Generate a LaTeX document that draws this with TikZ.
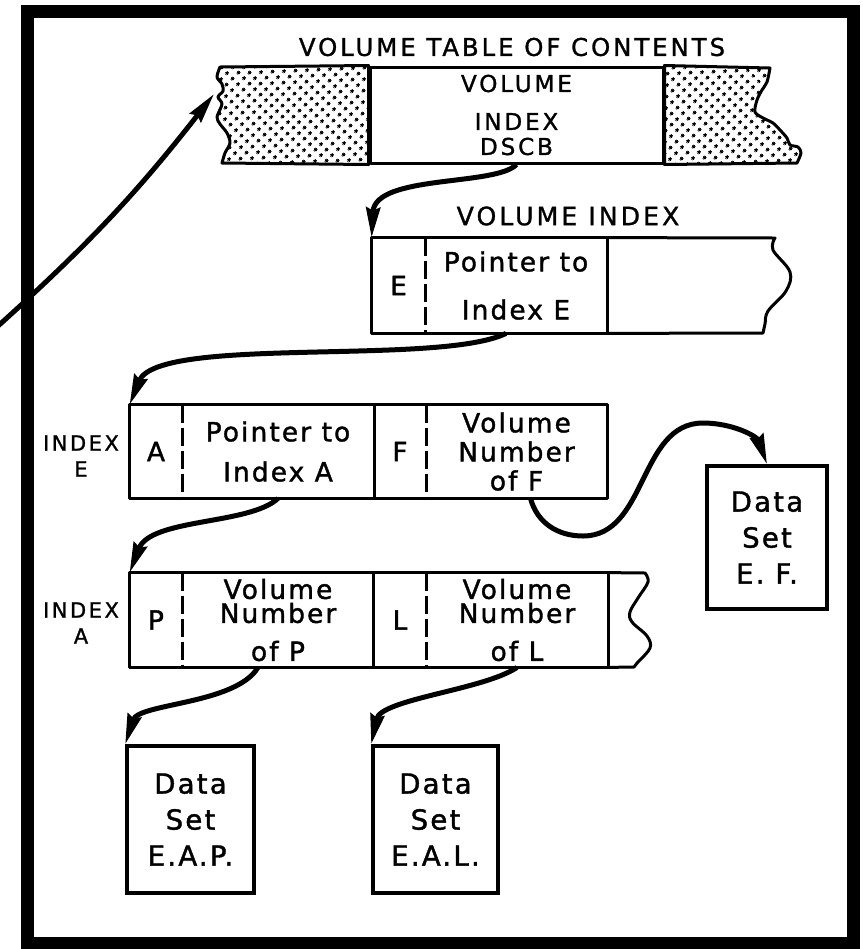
\documentclass[tikz,border=0pt]{standalone}
\usepackage{fontspec}
\setmainfont{DejaVu Sans}
\newfontfamily\lettering[LetterSpace=12, FakeBold=1.2]{DejaVu Sans}
\newfontfamily\cellfont[LetterSpace=8, FakeBold=1.4]{DejaVu Sans}
\usetikzlibrary{arrows.meta,patterns.meta}

\begin{document}
\begin{tikzpicture}[
  x=0.5pt, y=0.5pt,
  hdr/.style={font=\lettering\fontsize{12.2}{14}\selectfont, inner sep=0pt},
  sidelbl/.style={font=\lettering\fontsize{10.5}{13}\selectfont, align=center,
                  inner sep=0pt},
  cell/.style={minimum width=#1, minimum height=47pt, inner sep=0pt, align=center,
               font=\cellfont\fontsize{13.2}{14.5}\selectfont},
  rowline/.style={line width=1.5pt, line join=round},
  divider/.style={line width=1.2pt, dash pattern=on 9pt off 2.5pt},
  dataset/.style={draw, line width=1.8pt, minimum width=#1, minimum height=73.5pt,
                  inner sep=0pt, align=center,
                  font=\cellfont\fontsize{13.8}{18}\selectfont},
  link/.style={-{Stealth[length=15pt, width=7pt, inset=1.5pt]}, line width=2.5pt},
  dotfill/.style={pattern={Dots[distance=4pt, radius=0.95pt, angle=45]}},
]
\useasboundingbox (0,0) rectangle (863,-949);

% ---------------- outer frame ----------------------------------------
\draw[line width=6.5pt] (27,-11) rectangle (853,-943);

% ---------------- volume table of contents ---------------------------
\node[hdr] (vtoctitle) at (512,-47) {VOLUME TABLE OF CONTENTS};
\node[cell=146.5pt, draw, rowline, minimum height=48pt,
      font=\lettering\fontsize{11.6}{12.5}\selectfont] (dscb) at (516.5,-115)
  {VOLUME\\[6.5pt]INDEX\\DSCB};
\draw[rowline, dotfill] (dscb.north west) -- plot[smooth, tension=0.5] coordinates
  {(220,-67) (217,-77) (222,-84) (223,-91) (218,-97) (222,-104) (217,-117)
   (220,-124) (227,-133) (230,-143) (225,-153) (222,-163)} -- (dscb.south west) -- cycle;
\draw[rowline, dotfill] (dscb.north east) -- plot[smooth, tension=0.5] coordinates
  {(770,-68) (767,-82) (762,-90) (757,-100) (755,-112) (763,-118) (773,-123)
   (780,-130) (787,-138) (790,-145) (798,-147) (801,-153) (797,-163)} -- (dscb.south east) -- cycle;

% ---------------- volume index ---------------------------------------
\node[hdr, font=\lettering\fontsize{12.6}{14}\selectfont] (vixlbl) at (568,-216) {VOLUME INDEX};
\node[cell=26.5pt, minimum height=47.5pt] (vE)   at (398.5,-285.5) {E};
\node[cell=91pt,   minimum height=47.5pt] (vPtr) at (516,-285.5) {Pointer to\\[9.5pt]Index E};
\draw[rowline] (vE.north west) rectangle (vPtr.south east);
\draw[rowline] (vPtr.north east) -- plot[smooth, tension=0.6] coordinates
  {(775,-238) (773,-250) (790,-272) (786,-291) (768,-311) (765,-324) (763,-333)}
  -- (vPtr.south east);
\draw[divider] (vE.north east) -- (vE.south east);

% ---------------- index E --------------------------------------------
\node[sidelbl] (ixE) at (81,-456) {INDEX\\E};
\node[cell=26pt,   minimum height=46.5pt] (eA)   at (156,-451.5) {A};
\node[cell=96pt,   minimum height=46.5pt] (ePtr) at (278,-451.5) {Pointer to\\[5.5pt]Index A};
\node[cell=26pt,   minimum height=46.5pt] (eF)   at (400,-451.5) {F};
\node[cell=90.5pt, minimum height=46.5pt] (eVol) at (516.5,-451.5) {Volume\\Number\\of F};
\draw[rowline] (eA.north west) rectangle (eVol.south east);
\draw[rowline] (ePtr.north east) -- (ePtr.south east);
\foreach \c in {eA,eF}
  \draw[divider] (\c.north east) -- (\c.south east);

% ---------------- index A --------------------------------------------
\node[sidelbl] (ixA) at (81,-623) {INDEX\\A};
\node[cell=26pt] (aP)    at (156,-620) {P};
\node[cell=96pt] (aVol)  at (278,-620) {Volume\\[-2.5pt]Number\\[4.5pt]of P};
\node[cell=26pt] (aL)    at (400,-620) {L};
\node[cell=91pt] (aVolL) at (517,-620) {Volume\\[-2.5pt]Number\\[4.5pt]of L};
\draw[rowline] (aP.north west) rectangle (aVolL.south east);
\draw[rowline] (aL.north west) -- (aL.south west);
\draw[rowline] (aVolL.north east) -- plot[smooth, tension=0.6] coordinates
  {(645,-573) (648,-582) (638,-598) (630,-612) (632,-622) (647,-636) (650,-648)
   (638,-662) (634,-667)} -- (aVolL.south east);
\foreach \c in {aP,aL}
  \draw[divider] (\c.north east) -- (\c.south east);

% ---------------- data sets ------------------------------------------
\node[dataset=60pt, minimum height=71.5pt] (dsEF) at (767,-537.5) {Data\\Set\\E. F.};
\node[dataset=63.5pt] (dsEAP) at (190.5,-819.5) {Data\\Set\\E.A.P.};
\node[dataset=62.5pt] (dsEAL) at (435.5,-819.5) {Data\\Set\\E.A.L.};

% ---------------- pointers -------------------------------------------
\coordinate (offpage)  at (-2,-326);
\coordinate (vtocedge) at (214,-94);
\coordinate (dip)      at (583,-536);
\coordinate (crest)    at (703,-423);

\draw[link] (offpage) to[bend right=5] (vtocedge);
\draw[link] (dscb.south) to[out=-134, in=87, out looseness=0.48] (vE.north west);
\draw[link] ([xshift=-5pt]vPtr.south) to[out=-154, in=68, looseness=0.5] (eA.north west);
\draw[link] (ePtr.south) to[out=-137, in=69, out looseness=0.6, in looseness=0.9] (aP.north west);
\draw[link] ([xshift=7pt]eVol.south) to[out=-75, in=180] (dip)
  to[out=0, in=180] (crest) to[out=0, in=110] (dsEF.north);
\draw[link] ([xshift=-10pt]aVol.south) to[out=-121, in=72, looseness=0.72] (dsEAP.north west);
\draw[link] (aVolL.south) to[out=-146, in=78, out looseness=0.63, in looseness=0.72] (dsEAL.north west);

\end{tikzpicture}
\end{document}
